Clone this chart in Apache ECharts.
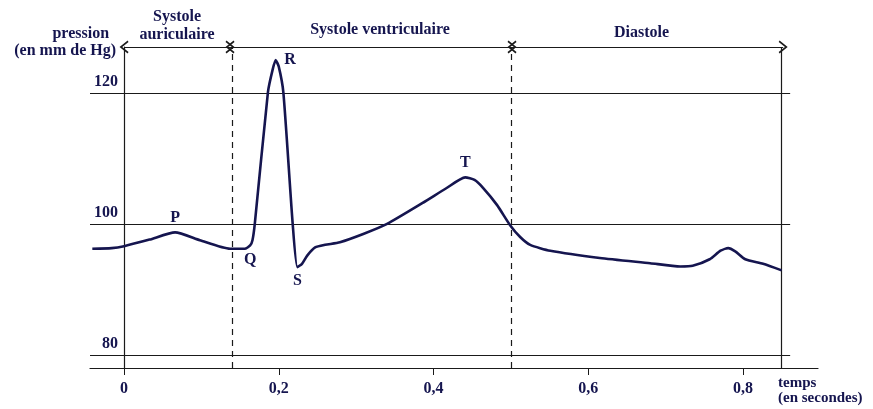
<!DOCTYPE html>
<html>
<head>
<meta charset="utf-8">
<script src="https://cdn.jsdelivr.net/npm/echarts@6/dist/echarts.min.js"></script>
<style>
html,body{margin:0;padding:0;background:#fff;}
#chart{width:873px;height:409px;}
</style>
</head>
<body>
<div id="chart"></div>
<script>
// ---- data ----
const timeS = [-0.041, -0.016, 0, 0.033, 0.066, 0.098, 0.137, 0.156, 0.163, 0.166, 0.169, 0.186, 0.192, 0.196, 0.200, 0.206, 0.218, 0.224, 0.230, 0.237, 0.247, 0.260, 0.279, 0.310, 0.340, 0.386, 0.416, 0.441, 0.453, 0.464, 0.482, 0.499, 0.512, 0.525, 0.551, 0.615, 0.680, 0.719, 0.735, 0.757, 0.771, 0.781, 0.790, 0.803, 0.826, 0.850];
const pressure = [96.2, 96.3, 96.6, 97.6, 98.7, 97.5, 96.2, 96.2, 96.7, 97.5, 100.0, 120.1, 123.5, 125.0, 124.0, 120.0, 100.0, 93.4, 93.9, 95.2, 96.4, 96.8, 97.2, 98.5, 100.0, 103.2, 105.4, 107.1, 106.7, 105.5, 102.9, 99.8, 98.0, 96.8, 95.9, 94.8, 94.0, 93.5, 93.6, 94.6, 95.9, 96.3, 95.8, 94.6, 93.9, 92.9];

const waveNames = ['P', 'Q', 'R', 'S', 'T'];
const waveT = [0.066, 0.163, 0.196, 0.224, 0.441];
const waveV = [98.7, 96.5, 125.0, 93.4, 107.1];

const phaseNames = ['Systole\nauriculaire', 'Systole ventriculaire', 'Diastole'];
const phaseBounds = [0, 0.137, 0.5015, 0.852];

const xTicks = [0, 0.2, 0.4, 0.6, 0.8];
const yTicks = [80, 100, 120];

// ---- styling ----
const NAVY = '#15154f';
const INK = '#1a1a1a';
const FONT = '"Liberation Serif", "Times New Roman", serif';
const X_MIN = -0.044, X_MAX = 0.897, Y_MIN = 78, Y_MAX = 127;
const LEVEL_START = -0.044, LEVEL_END = 0.861;

const labelStyle = {
  P: {position: 'top', distance: 6},
  Q: {position: 'bottom', distance: 5},
  R: {position: 'right', distance: 8},
  S: {position: 'bottom', distance: 5},
  T: {position: 'top', distance: 6}
};
const phaseLabelStyle = [
  {distance: 3, offset: [0, 0]},
  {distance: 8, offset: [9, 0]},
  {distance: 5, offset: [-6, 0]}
];

const chevron = 'path://M0,0L6,9L4.7,10L0,3L-4.7,10L-6,9Z';

const chart = echarts.init(document.getElementById('chart'), null, {renderer: 'canvas'});

const curve = timeS.map((t, i) => [t, pressure[i]]);

const levelLines = yTicks.map(v => [
  {coord: [LEVEL_START, v]},
  {coord: [LEVEL_END, v]}
]);

const phaseArrows = phaseNames.map((n, i) => [
  {coord: [phaseBounds[i], Y_MAX], name: n, label: phaseLabelStyle[i]},
  {coord: [phaseBounds[i + 1], Y_MAX]}
]);

const txt = (size) => ({color: NAVY, fontFamily: FONT, fontWeight: 'bold', fontSize: size});

const option = {
  animation: false,
  backgroundColor: '#fff',
  grid: {left: 90, right: 55, top: 47, bottom: 41, containLabel: false},
  xAxis: {
    type: 'value',
    min: X_MIN,
    max: X_MAX,
    axisLine: {lineStyle: {color: INK, width: 1.2}},
    axisTick: {customValues: xTicks, length: 7, lineStyle: {color: INK, width: 1}},
    axisLabel: Object.assign({
      customValues: xTicks,
      formatter: v => String(v).replace('.', ','),
      margin: 13
    }, txt(16)),
    splitLine: {show: false},
    name: 'temps\n(en secondes)',
    nameLocation: 'end',
    nameGap: -40,
    nameTextStyle: Object.assign(txt(15), {
      align: 'left', verticalAlign: 'top', lineHeight: 15, padding: [8, 0, 0, 0]
    })
  },
  yAxis: {
    type: 'value',
    min: Y_MIN,
    max: Y_MAX,
    axisLine: {show: true, onZero: true, lineStyle: {color: INK, width: 1.2}},
    axisTick: {show: false},
    axisLabel: Object.assign({
      customValues: yTicks,
      margin: -28,
      verticalAlign: 'bottom',
      padding: [0, 0, 3, 0]
    }, txt(16)),
    splitLine: {show: false},
    name: '{a|pression}\n{b|(en mm de Hg)}',
    nameLocation: 'end',
    nameGap: -12,
    nameTextStyle: Object.assign(txt(16), {
      align: 'right', verticalAlign: 'bottom', padding: [0, 8, 0, 0],
      rich: {
        a: Object.assign(txt(16), {lineHeight: 17, padding: [0, 7, 0, 0]}),
        b: Object.assign(txt(16), {lineHeight: 17})
      }
    })
  },
  series: [
    {
      name: 'guides',
      type: 'line',
      data: [],
      silent: true,
      markLine: {
        silent: true,
        animation: false,
        symbol: 'none',
        label: {show: false},
        lineStyle: {color: INK, width: 1.2, type: 'solid'},
        data: [
          ...levelLines,
          {xAxis: phaseBounds[1], lineStyle: {type: [6, 5], color: INK, width: 1.2}},
          {xAxis: phaseBounds[2], lineStyle: {type: [6, 5], color: INK, width: 1.2}},
          {xAxis: phaseBounds[3], lineStyle: {type: 'solid', color: INK, width: 1.2}}
        ]
      }
    },
    {
      name: 'phases',
      type: 'line',
      data: [],
      silent: true,
      markLine: {
        silent: true,
        animation: false,
        symbol: [chevron, chevron],
        symbolSize: [13, 9],
        lineStyle: {color: INK, width: 1.2, type: 'solid'},
        label: Object.assign({
          show: true,
          position: 'middle',
          distance: 7,
          formatter: '{b}',
          lineHeight: 18
        }, txt(16)),
        data: phaseArrows
      }
    },
    {
      name: 'pression',
      type: 'line',
      data: curve,
      smooth: 0.2,
      showSymbol: false,
      symbol: 'none',
      lineStyle: {color: NAVY, width: 2.6},
      z: 5,
      markPoint: {
        silent: true,
        animation: false,
        symbol: 'circle',
        symbolSize: 1,
        itemStyle: {color: 'rgba(0,0,0,0)'},
        data: waveNames.map((n, i) => ({
          name: n,
          coord: [waveT[i], waveV[i]],
          label: Object.assign({
            show: true,
            formatter: '{b}',
            position: labelStyle[n].position,
            distance: labelStyle[n].distance
          }, txt(16))
        }))
      }
    }
  ]
};

chart.setOption(option);
</script>
</body>
</html>
